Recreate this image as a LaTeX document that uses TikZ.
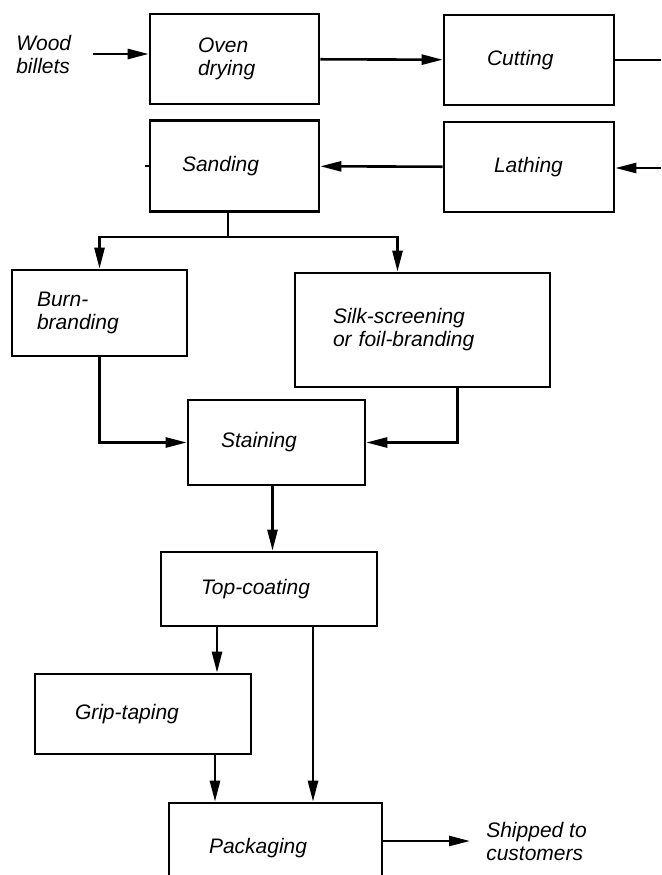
\documentclass[tikz,border=0pt]{standalone}
\usepackage{fontspec}
\setmainfont{Liberation Sans}
\usepackage{xcolor}
\usetikzlibrary{arrows.meta}

\begin{document}
\begin{tikzpicture}[x=1pt, y=1pt, line width=2.6pt,
    stagebox/.style={draw, rectangle, align=left, inner ysep=0pt, inner xsep=40pt, font=\fontsize{21}{23}\selectfont\itshape},
    plaintext/.style={align=left, inner sep=0pt, font=\fontsize{21}{23}\selectfont\itshape},
    flow/.style={-{Triangle[length=21pt,width=10pt]}}]
    \useasboundingbox (0,0) rectangle (661,-875);

    % Input
    \node[plaintext, anchor=west] (wood) at (15,-54) {Wood\\billets};

    % Stage 1
    \node[stagebox, minimum width=169, minimum height=90, inner xsep=48pt, text width=73pt] (oven) at (234.5,-59) {Oven\\drying};

    % Stage 2
    \node[stagebox, minimum width=170, minimum height=90, inner xsep=43pt, text width=84pt] (cut) at (529,-60) {Cutting};

    % Stage 3
    \node[stagebox, minimum width=170, minimum height=90, inner xsep=50pt, text width=70pt] (lathe) at (529,-167) {Lathing};

    % Stage 4
    \node[stagebox, minimum width=169, minimum height=91, inner xsep=32pt, text width=105pt] (sand) at (234.5,-166) {Sanding};

    % Stage 5a
    \node[stagebox, minimum width=175, minimum height=86, inner xsep=25pt, text width=125pt] (burn) at (99.5,-313) {Burn-\\branding};

    % Stage 5b
    \node[stagebox, minimum width=255, minimum height=114, inner xsep=38pt, text width=179pt] (silk) at (422.5,-330) {Silk-screening\\or foil-branding};

    % Stage 6
    \node[stagebox, minimum width=177, minimum height=85, inner xsep=33pt, text width=111pt] (stain) at (276.5,-442.5) {Staining};

    % Stage 7
    \node[stagebox, minimum width=216, minimum height=74, text width=136pt] (top) at (269,-589) {Top-coating};

    % Stage 8
    \node[stagebox, minimum width=216, minimum height=80, text width=136pt] (grip) at (143,-714) {Grip-taping};

    % Stage 9
    \node[stagebox, minimum width=213, minimum height=90, text width=133pt] (pack) at (275.5,-848) {Packaging};

    % Output
    \node[plaintext, anchor=west] (ship) at (485,-841) {Shipped to\\customers};

    % Edge points
    \coordinate (out) at (661,-60);
    \coordinate (feed) at (661,-168);
    \coordinate (split) at (228,-237);

    % Arrows
    \draw[flow, shorten <=21pt] (wood.east) -- (wood.east -| oven.west);
    \draw[flow] (oven) -- (cut);
    \draw (cut.east) -- (out);
    \draw[flow] (feed) -- (feed -| lathe.east);
    \draw[flow] (lathe) -- (sand);
    \draw (sand.west) -- ++(-4,0);
    \draw (sand.south -| split) -- (split);
    \draw[flow] (split) -| (burn.north);
    \draw[flow] (split) -| ([xshift=-25]silk.north);
    \draw[flow] (burn.south) |- (stain.west);
    \draw[flow] ([xshift=35]silk.south) |- (stain.east);
    \draw[flow] ([xshift=-4]stain.south) -- ([xshift=-4]stain.south |- top.north);
    \draw[flow] ([xshift=-52]top.south) -- ([xshift=-52]top.south |- grip.north);
    \draw[flow] ([xshift=44]top.south) -- ([xshift=44]top.south |- pack.north);
    \draw[flow] ([xshift=72]grip.south) -- ([xshift=72]grip.south |- pack.north);
    \draw[flow] (pack.east |- ship.west) -- ([xshift=-15]ship.west);
\end{tikzpicture}
\end{document}
